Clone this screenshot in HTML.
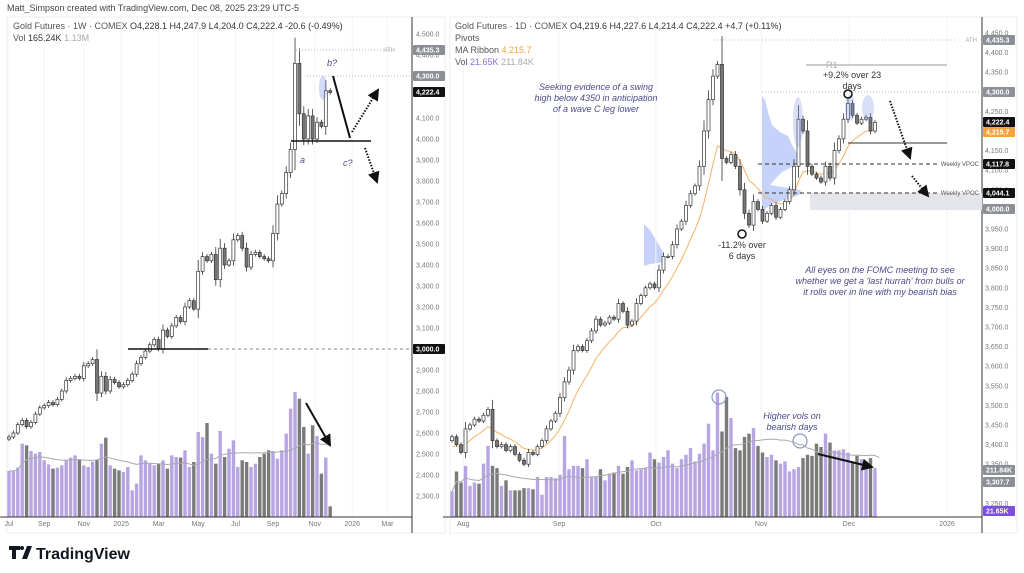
<!DOCTYPE html>
<html><head><meta charset="utf-8">
<style>
html,body{margin:0;padding:0;background:#fff;}
svg{display:block;font-family:"Liberation Sans",sans-serif;}
.ax{font-size:7px;fill:#777;}
.lg{font-size:9px;fill:#555;}
.note{font-size:9px;fill:#4b4a8c;font-style:italic;}
</style></head>
<body>
<svg id="c" width="1024" height="573" viewBox="0 0 1024 573" xmlns="http://www.w3.org/2000/svg">
<defs>
<clipPath id="cl"><rect x="7" y="17" width="405" height="500"/></clipPath>
<clipPath id="cr"><rect x="450" y="17" width="532" height="500"/></clipPath>
<marker id="ah" markerWidth="6" markerHeight="6" refX="5" refY="3" orient="auto"><path d="M0,0 L6,3 L0,6 z" fill="#111"/></marker>
</defs>
<text x="7" y="11" font-size="9" fill="#444">Matt_Simpson created with TradingView.com, Dec 08, 2025 23:29 UTC-5</text>
<rect x="7" y="17" width="438" height="516" fill="none" stroke="#eceef2"/>
<rect x="450" y="17" width="567" height="516" fill="none" stroke="#eceef2"/>
<g fill="#6f8fef" opacity="0.4">
 <path d="M762,96 L765,100 L768,112 L772,125 L780,132 L788,136 L792,145 L796,152 L800,158 L796,164 L790,168 L782,172 L776,178 L770,185 L800,190 L802,194 L790,198 L772,204 L764,210 L762,210 Z"/>
 <path d="M644,224 L650,230 L656,240 L662,250 L665,262 L650,264 L644,266 Z"/>
</g>
<g id="L"></g>
<g id="R"></g>
<g id="ann">
 <line x1="296" y1="50" x2="395" y2="50" stroke="#bbb" stroke-dasharray="1,2"/>
 <text x="395" y="52" font-size="6" fill="#aaa" text-anchor="end">ATH</text>
 <line x1="307" y1="76" x2="412" y2="76" stroke="#bbb" stroke-dasharray="1,2"/>
 <line x1="128" y1="349" x2="208" y2="349" stroke="#111" stroke-width="1.5"/>
 <line x1="208" y1="349" x2="412" y2="349" stroke="#888" stroke-dasharray="3,3"/>
 <line x1="291" y1="141" x2="371" y2="141" stroke="#111" stroke-width="1.5"/>
 <ellipse cx="323" cy="88" rx="4" ry="12" fill="#7f95e6" opacity="0.35"/>
 <text x="327" y="66" class="note">b?</text>
 <text x="300" y="163" class="note">a</text>
 <text x="343" y="166" class="note">c?</text>
 <line x1="333" y1="76" x2="350" y2="138" stroke="#111" stroke-width="2"/>
 <line x1="352" y1="132" x2="378" y2="90" stroke="#111" stroke-width="2" stroke-dasharray="1.5,1.5" marker-end="url(#ah)"/>
 <line x1="365" y1="148" x2="377" y2="182" stroke="#111" stroke-width="2" stroke-dasharray="1.5,1.5" marker-end="url(#ah)"/>
 <line x1="306" y1="403" x2="330" y2="445" stroke="#111" stroke-width="2" marker-end="url(#ah)"/>
 <line x1="714" y1="40" x2="955" y2="40" stroke="#bbb" stroke-dasharray="1,2"/>
 <text x="977" y="42" font-size="6" fill="#aaa" text-anchor="end">ATH</text>
 <line x1="806" y1="65" x2="947" y2="65" stroke="#999"/>
 <text x="826" y="68" font-size="9" fill="#aaa">R1</text>
 <line x1="762" y1="92" x2="982" y2="92" stroke="#bbb" stroke-dasharray="1,2"/>
 <line x1="848" y1="143" x2="947" y2="143" stroke="#333"/>
 <rect x="810" y="193" width="172" height="17" fill="#e3e5ea"/>
 <line x1="758" y1="164" x2="940" y2="164" stroke="#333" stroke-dasharray="4,3"/>
 <line x1="758" y1="193" x2="940" y2="193" stroke="#333" stroke-dasharray="4,3"/>
 <text x="979" y="166" font-size="6" fill="#555" text-anchor="end">Weekly VPOC</text>
 <text x="979" y="195" font-size="6" fill="#555" text-anchor="end">Weekly VPOC</text>
 <ellipse cx="798" cy="122" rx="5" ry="25" fill="#7f95e6" opacity="0.3"/>
 <ellipse cx="850" cy="108" rx="5" ry="13" fill="#7f95e6" opacity="0.3"/>
 <ellipse cx="868" cy="108" rx="6" ry="13" fill="#7f95e6" opacity="0.3"/>
 <circle cx="848" cy="94" r="4" fill="none" stroke="#111" stroke-width="1.5"/>
 <text x="852" y="78" font-size="9" fill="#333" text-anchor="middle">+9.2% over 23</text>
 <text x="852" y="89" font-size="9" fill="#333" text-anchor="middle">days</text>
 <text x="596" y="90" class="note" text-anchor="middle">Seeking evidence of a swing</text>
 <text x="596" y="101" class="note" text-anchor="middle">high below 4350 in anticipation</text>
 <text x="596" y="112" class="note" text-anchor="middle">of a wave C leg lower</text>
 <circle cx="742" cy="234" r="4" fill="none" stroke="#111" stroke-width="1.5"/>
 <text x="742" y="248" font-size="9" fill="#333" text-anchor="middle">-11.2% over</text>
 <text x="742" y="259" font-size="9" fill="#333" text-anchor="middle">6 days</text>
 <text x="880" y="273" class="note" text-anchor="middle">All eyes on the FOMC meeting to see</text>
 <text x="880" y="284" class="note" text-anchor="middle">whether we get a 'last hurrah' from bulls or</text>
 <text x="880" y="295" class="note" text-anchor="middle">it rolls over in line with my bearish bias</text>
 <text x="792" y="419" class="note" text-anchor="middle">Higher vols on</text>
 <text x="792" y="430" class="note" text-anchor="middle">bearish days</text>
 <circle cx="719" cy="397" r="7" fill="none" stroke="#8a9ac8" stroke-width="1.2"/>
 <circle cx="800" cy="441" r="7" fill="none" stroke="#8a9ac8" stroke-width="1.2"/>
 <line x1="818" y1="454" x2="872" y2="467" stroke="#111" stroke-width="2" marker-end="url(#ah)"/>
 <line x1="890" y1="101" x2="910" y2="158" stroke="#111" stroke-width="2" stroke-dasharray="1.5,1.5" marker-end="url(#ah)"/>
 <line x1="912" y1="176" x2="928" y2="196" stroke="#111" stroke-width="2" stroke-dasharray="1.5,1.5" marker-end="url(#ah)"/>
</g>
<g id="legend">
 <text x="13" y="29" class="lg">Gold Futures · 1W · COMEX  <tspan fill="#333">O4,228.1  H4,247.9  L4,204.0  C4,222.4  -20.6 (-0.49%)</tspan></text>
 <text x="13" y="41" class="lg">Vol  <tspan fill="#333">165.24K</tspan> <tspan fill="#aaa">1.13M</tspan></text>
 <text x="455" y="29" class="lg">Gold Futures · 1D · COMEX  <tspan fill="#333">O4,219.6  H4,227.6  L4,214.4  C4,222.4  +4.7 (+0.11%)</tspan></text>
 <text x="455" y="41" class="lg">Pivots</text>
 <text x="455" y="53" class="lg">MA Ribbon  <tspan fill="#f5a33c">4,215.7</tspan></text>
 <text x="455" y="65" class="lg">Vol  <tspan fill="#8a6fd6">21.65K</tspan> <tspan fill="#aaa">211.84K</tspan></text>
</g>
<g>
 <path d="M9,546 h11 v4 h-4 v9 h-4 v-9 h-3z M22,559 l5,-13 h5 l-5,13z" fill="#131722"/>
 <circle cx="22" cy="548" r="2" fill="#131722"/>
 <text x="36" y="559" font-size="16" font-weight="bold" fill="#131722">TradingView</text>
</g>
</svg>
<script>
// ---- weekly data ----
const wLabels = ["Jul","Sep","Nov","2025","Mar","May","Jul","Sep","Nov","2026","Mar"];
const wLabelIdx = [0,8,17,25.5,34,43,51.5,60,69.5,78,86];
const wClose = [2581,2600,2640,2660,2630,2650,2690,2720,2730,2745,2735,2760,2800,2850,2860,2870,2860,2920,2930,2950,
 2790,2870,2800,2855,2840,2820,2830,2850,
 2880,2930,2960,2990,3020,3045,3000,3090,3060,3110,3150,3130,3200,3230,3190,3370,3440,3420,
 3450,3330,3480,3400,3420,3520,3540,3480,3390,3450,3460,3440,3430,3420,
 3550,3690,3740,3840,3950,4360,4120,4000,4110,4000,4080,4060,4230,4222];
const wVol = [138,138,148,220,215,198,190,195,170,158,145,148,155,170,178,185,173,155,150,166,
 172,220,238,155,145,140,135,150,80,100,185,170,160,155,160,170,145,185,180,178,
 200,150,165,255,240,282,190,160,258,180,205,230,150,170,165,150,160,180,190,200,
 198,175,200,250,325,375,355,270,190,275,243,130,178,32];
const wTicks = [4500,4400,4100,4000,3900,3800,3700,3600,3500,3400,3300,3200,3100,2900,2800,2700,2600,2500,2400,2300];
// ---- daily data ----
const dLabels = ["Aug","Sep","Oct","Nov","Dec","2026"];
const dLabelIdx = [2.5,23.8,45.3,68.7,88.2,110];
const dClose = [3420,3400,3380,3440,3450,3465,3460,3475,3490,3410,3395,3400,3385,3395,3375,3360,3350,3380,3375,3395,3410,
 3440,3460,3480,3520,3560,3590,3640,3650,3640,3665,3690,3720,3705,3710,3725,3720,3760,3740,3705,3715,3760,3780,3800,3810,
 3800,3845,3880,3880,3910,3950,3970,4010,4040,4060,4110,4200,4280,4340,4370,4130,4120,4140,4110,4050,3990,3960,4020,4000,3970,3990,4010,3980,4000,4020,
 4050,4110,4230,4200,4110,4090,4080,4070,4110,4080,4150,4180,4230,4270,4240,4220,4230,4235,4200,4222];
const dVol = [115,205,155,230,140,155,150,240,320,230,220,140,165,120,120,120,130,130,125,180,100,
 180,180,175,190,365,215,230,230,220,260,180,180,215,165,195,200,230,195,225,255,210,215,220,290,
 260,245,270,300,240,220,260,280,310,250,285,330,420,300,560,385,540,445,310,300,360,375,400,320,290,270,280,255,240,250,
 205,215,225,265,280,275,330,315,375,335,300,300,305,290,250,275,260,250,265,220,22];
const dTicks = [4450,4400,4350,4250,4200,4150,4100,4050,3950,3900,3850,3800,3750,3700,3650,3600,3550,3500,3450,3400,3350,3250];

const NS="http://www.w3.org/2000/svg";
function mk(parent,tag,attrs){const e=document.createElementNS(NS,tag);for(const k in attrs)e.setAttribute(k,attrs[k]);parent.appendChild(e);return e;}

const lx=i=>9+i*4.4, ly=p=>34+(4500-p)*0.21, lv=v=>517-v/3;
const rx=i=>452+i*4.5, ry=p=>33+(4450-p)*0.392, rv=v=>517-v/4.5;

function drawChart(g,clip,closes,vols,X,Y,V,wickMin,emaLen,maColor,plotR,axisX,ticks,labels,labelIdx,prefix){
  labelIdx.forEach((li,k)=>{const gx=X(li);if(gx<plotR){const ln=mk(g,'line',{x1:gx,y1:17,x2:gx,y2:517,stroke:'#f3f4f6'});
    
    }});
  const cg=mk(g,'g',{'clip-path':'url(#'+clip+')'});
  for(let i=0;i<closes.length;i++){
    const o=i?closes[i-1]:closes[i]-10, up=closes[i]>=o;
    const b=mk(cg,'rect',{x:X(i)-1.7,y:V(vols[i]),width:3.4,height:517-V(vols[i]),fill:up?'#b7a4e3':'#7a7a7a'});
    
    
  }
  let pts=[];for(let i=0;i<vols.length;i++){const s=Math.max(0,i-19);let t=0;for(let j=s;j<=i;j++)t+=vols[j];pts.push(X(i)+','+V(t/(i-s+1)));}
  const vm=mk(cg,'polyline',{points:pts.join(' '),fill:'none',stroke:'#aaa','stroke-width':1});
  
  
  if(emaLen){let e=closes[0]-30,a=2/(emaLen+1),mp=[];for(let i=0;i<closes.length;i++){e=e+a*(closes[i]-e);mp.push(X(i)+','+Y(e));}
    const m=mk(cg,'polyline',{points:mp.join(' '),fill:'none',stroke:maColor,'stroke-width':1});
    
    }
  for(let i=0;i<closes.length;i++){
    const o=i?closes[i-1]:closes[i]-10,c=closes[i],up=c>=o;
    const w=Math.max(wickMin,Math.abs(c-o)*0.3);
    const hi=Math.max(o,c)+w, lo=Math.min(o,c)-w*0.8;
    const wk=mk(cg,'line',{x1:X(i),x2:X(i),y1:Y(hi),y2:Y(lo),stroke:'#333','stroke-width':0.8});
    
    
    const top=Y(Math.max(o,c)),h=Math.max(1,Math.abs(Y(o)-Y(c)));
    const r=mk(cg,'rect',{x:X(i)-1.5,y:top,width:3,height:h,fill:up?'#fff':'#777',stroke:'#333','stroke-width':0.7});
    
    
  }
  const al=mk(g,'line',{x1:plotR,y1:17,x2:plotR,y2:533,stroke:'#333'});
  
  
  const bl=mk(g,'line',{x1:X(-2),y1:517,x2:plotR,y2:517,stroke:'#333'});
  
  
  ticks.forEach(t=>{const tx=mk(g,'text',{x:axisX,y:Y(t)+2.5,class:'ax'});tx.textContent=t.toLocaleString('en-US',{minimumFractionDigits:1});
    
    });
  labels.forEach((l,k)=>{const gx=X(labelIdx[k]);if(gx<plotR-5){const tx=mk(g,'text',{x:gx,y:526,class:'ax','text-anchor':'middle'});tx.textContent=l;
    
    }});
}
const L=document.getElementById('L'),R=document.getElementById('R');
drawChart(L,'cl',wClose,wVol,lx,ly,lv,12,0,null,412,416,wTicks,wLabels,wLabelIdx,'weekly');
drawChart(R,'cr',dClose,dVol,rx,ry,rv,6,10,'#f7b267',982,985,dTicks,dLabels,dLabelIdx,'daily');

function tag(g,x,y,txt,bg,fg,name){
  const r=mk(g,'rect',{x:x,y:y-5,width:32,height:10,fill:bg,rx:1});
  
  
  const t=mk(g,'text',{x:x+3,y:y+2.5,'font-size':7,fill:fg,'font-weight':'bold'});t.textContent=txt;
  
  
}
tag(L,413,50,'4,435.3','#8c8f96','#fff','ath-price-tag');
tag(L,413,76,'4,300.0','#8c8f96','#fff','level-4300-tag');
tag(L,413,92,'4,222.4','#111','#fff','last-price-tag');
tag(L,413,349,'3,000.0','#111','#fff','level-3000-tag');
tag(R,983,40,'4,435.3','#8c8f96','#fff','ath-price-tag-daily');
tag(R,983,92,'4,300.0','#8c8f96','#fff','level-4300-tag-daily');
tag(R,983,122,'4,222.4','#111','#fff','last-price-tag-daily');
tag(R,983,132,'4,215.7','#f5a33c','#fff','ma-price-tag');
tag(R,983,164,'4,117.8','#111','#fff','vpoc-tag-1');
tag(R,983,193,'4,044.1','#111','#fff','vpoc-tag-2');
tag(R,983,209,'4,000.0','#8c8f96','#fff','level-4000-tag');
tag(R,983,470,'211.84K','#8c8f96','#fff','vol-ma-tag');
tag(R,983,482,'3,307.7','#8c8f96','#fff','pivot-tag');
tag(R,983,511,'21.65K','#7b4fd6','#fff','vol-tag');
</script>
</body></html>
